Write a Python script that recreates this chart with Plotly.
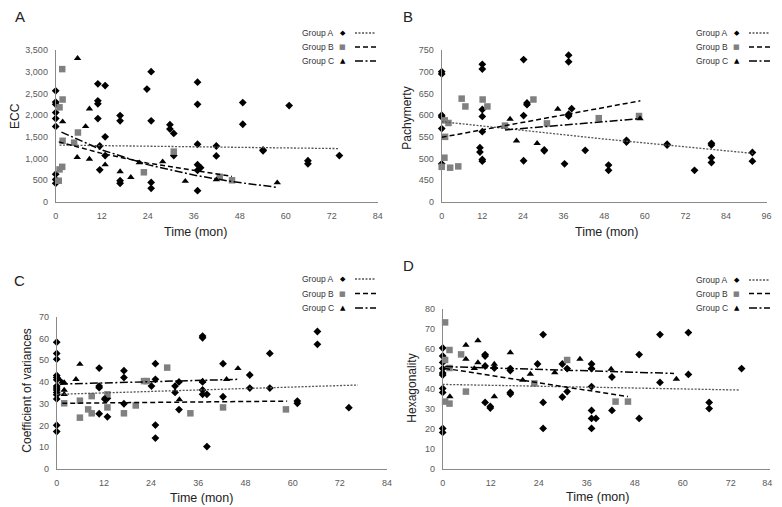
import plotly.graph_objects as go

# janela 782x507; o <body> do html tem 8px de margem, a figura começa em (8, 8)
W, H = 782, 507
M = 8
FW, FH = W - M, H - M

# ---------- A: ECC ----------
ecc_a_t = [0, 0, 0, 0, 0, 0, 0, 0, 0, 11, 11, 11, 11, 11.5, 11.5, 12.9, 12.9, 12.9,
           16.8, 16.8, 16.8, 16.8, 23.8, 24.9, 24.9, 24.9, 24.9, 29.8, 29.8, 30.8, 30.8,
           37, 37, 37, 37, 37, 37, 37.8, 41.9, 41.9, 48.8, 48.8, 54.1, 54.1, 60.9,
           65.8, 65.8, 74]
ecc_a = [2560, 2300, 2250, 2060, 1920, 1740, 640, 520, 430, 2720, 2330, 2260, 1920, 1290, 740,
         2680, 1500, 1070, 1990, 1870, 490, 430, 2600, 3000, 1870, 450, 315, 1780, 1680, 1580, 1070,
         2760, 2250, 1330, 860, 730, 260, 790, 1290, 1060, 2290, 1790, 1200, 1180, 2220,
         950, 880, 1070]
ecc_b_t = [1.7, 1.8, 1.0, 1.8, 5.8, 4.8, 1.7, 1.0, 0.8, 23, 30.8, 42.8, 46]
ecc_b = [3060, 2360, 2180, 1410, 1600, 1366, 810, 750, 490, 684, 1160, 580, 500]
ecc_c_t = [5.7, 1.8, 7.8, 8.8, 5.6, 8.8, 12.9, 16.8, 19.6, 21.8, 27.9, 33.8, 41.9, 57.8]
ecc_c = [3310, 1850, 1740, 2145, 1030, 990, 860, 700, 570, 905, 928, 480, 515, 445]
ecc_trend_a_t = [1, 74]
ecc_trend_a = [1310, 1230]
ecc_trend_b_t = [0.8, 12, 24, 36, 46]
ecc_trend_b = [1385, 1120, 895, 720, 590]
ecc_trend_c_t = [1.5, 12, 24, 36, 46, 58]
ecc_trend_c = [1610, 1200, 860, 620, 470, 335]

# ---------- B: Pachymetry ----------
pach_a_t = [0, 0, 0, 0, 0, 0, 12, 12, 12, 12, 12, 11.3, 11.3, 12, 12, 24.2, 24.2, 24.2,
            25.2, 25.2, 30.3, 30.3, 37.5, 37.5, 37.5, 37.5, 36.3, 38.4, 42.4, 49.3, 49.3,
            54.6, 54.6, 66.6, 66.6, 74.7, 79.7, 79.7, 79.7, 79.7, 91.8, 91.8]
pach_a = [700, 695, 600, 596, 569, 488, 717, 706, 613, 597, 562, 525, 515, 498, 494, 728, 599, 495,
          628, 624, 520, 518, 738, 723, 602, 598, 488, 615, 519, 485, 473,
          542, 538, 533, 531, 473, 535, 531, 502, 491, 514, 494]
pach_b_t = [0, 0.8, 1.0, 0.9, 2.0, 2.5, 4.9, 5.9, 7.0, 12.1, 13.5, 18.7, 27.1, 31.1, 46.4, 58.3]
pach_b = [481, 502, 550, 588, 582, 479, 482, 638, 620, 636, 620, 576, 636, 581, 593, 598]
pach_c_t = [20.2, 22.1, 28.2, 34.3, 58.6]
pach_c = [591, 541, 535, 614, 592]
pach_trend_a_t = [0, 48, 92]
pach_trend_a = [585, 545, 512]
pach_trend_b_t = [0, 58.7]
pach_trend_b = [549, 633]
pach_trend_c_t = [18.7, 58.7]
pach_trend_c = [566, 592]

# ---------- C: Coefficient of variances ----------
cv_a_t = [0, 0, 0, 0, 0, 0, 0, 0, 0, 0, 0, 0, 0, 0, 10.8, 10.8, 10.8, 10.8, 12.3, 12.3,
          12.9, 12.9, 17.1, 17.1, 17.1, 24.1, 25.1, 25.1, 25.1, 25.1, 30.1, 30.1, 31.1, 31.1,
          37.1, 37.1, 37.1, 37.1, 37.1, 38.2, 38.2, 42.3, 42.3, 49.1, 49.1, 54.2, 54.2,
          61.2, 61.2, 66.3, 66.3, 74.3]
cv_a = [58.3, 53.1, 50.5, 43, 42.1, 41, 38.1, 37.2, 36.3, 35.2, 34.1, 32.2, 20.1, 17.2,
        46.4, 38.1, 37.4, 25.4, 32.5, 32.0, 32.5, 24, 45.2, 42, 30, 38.1, 48.4, 41.2, 20.2, 14.2,
        38.1, 35.2, 40, 27.3, 61.1, 60.3, 40, 36.3, 34.3, 34.3, 10.3, 48.4, 33.2, 43.2, 37.2,
        53.1, 37.2, 31.2, 30.2, 63.2, 57.3, 28.2]
cv_b_t = [1.9, 5.9, 5.9, 8.0, 8.9, 8.9, 12.9, 12.9, 17.1, 20.1, 22.2, 22.9, 28.1, 34.0, 42.3, 58.3]
cv_b = [30.2, 31.4, 23.6, 27.4, 33.5, 25.6, 34.3, 28.3, 25.6, 29.2, 40.4, 40.4, 46.6, 25.6, 28.3, 27.4]
cv_c_t = [0.7, 1.3, 1.9, 1.9, 1.9, 4.9, 5.9, 12.3, 31.2, 37.1, 43.2, 46.1]
cv_c = [41.2, 40, 39.8, 36.3, 34.3, 41.2, 48.2, 32.5, 31.9, 40.4, 41.2, 46.2]
cv_trend_a_t = [0, 76.6]
cv_trend_a = [34.3, 38.6]
cv_trend_b_t = [1.4, 58.6]
cv_trend_b = [30.2, 31.2]
cv_trend_c_t = [0.8, 45.9]
cv_trend_c = [39.0, 41.2]

# ---------- D: Hexagonality ----------
hex_a_t = [0, 0, 0, 0, 0, 0, 0, 0, 0, 0, 10.6, 10.6, 10.6, 10.6, 11.9, 11.9, 12.9,
           16.9, 16.9, 16.9, 16.9, 23.7, 25.1, 25.1, 25.1, 29.9, 29.9, 31.1, 31.1,
           37.2, 37.2, 37.2, 37.2, 37.2, 37.2, 38.3, 42.3, 42.3, 49.1, 49.1, 54.3, 54.3,
           61.4, 61.4, 66.6, 66.6, 74.7]
hex_a = [60.5, 56.5, 53.3, 50.2, 48, 47, 40.3, 38.3, 20.3, 18.3, 57.2, 56.5, 51.5, 33.3, 31.3, 30.5, 50.5,
         50.2, 49.2, 38.3, 37.5, 52.5, 67.2, 33.3, 20.3, 52.5, 36, 50.2, 38.7,
         52.5, 50.2, 41.2, 29.3, 25.3, 20.3, 25.3, 46, 29.3, 57.2, 25.3, 67.2, 43.3,
         68.2, 47.3, 33.3, 30.2, 50.2]
hex_b_t = [0.6, 0.6, 1.7, 1.7, 0.6, 1.7, 4.6, 5.8, 22.9, 31.1, 43.2, 46.3]
hex_b = [73.3, 54.5, 59.5, 50.5, 33.7, 32.7, 57.3, 38.7, 42.8, 54.5, 33.7, 33.7]
hex_c_t = [1.8, 5.8, 5.8, 7.9, 8.8, 8.8, 12.9, 12.9, 16.9, 20, 21.9, 28, 34.3, 37.2, 42.1, 58.4]
hex_c = [36.2, 62, 55, 50.3, 64.2, 53.2, 52.5, 36.2, 58.2, 44.5, 47.5, 48.2, 55, 50.5, 50, 45]
hex_trend_a_t = [0, 74.1]
hex_trend_a = [42.3, 39.5]
hex_trend_b_t = [0.6, 46.3]
hex_trend_b = [50.3, 36.2]
hex_trend_c_t = [0.6, 57.8]
hex_trend_c = [51.2, 47.8]

groups = ["Group A", "Group B", "Group C"]

FONT = "Liberation Sans, Arial, sans-serif"
marcadores = [dict(symbol="diamond", size=6, color="black"),
              dict(symbol="square", size=6.5, color="#808080"),
              dict(symbol="triangle-up", size=6.5, color="black")]
linhas = [dict(color="#555555", width=1.3, dash="2px,1.5px"),
          dict(color="black", width=1.5, dash="5px,3px"),
          dict(color="black", width=1.5, dash="8px,2.5px,2px,2.5px")]

fig = go.Figure()


def add_painel(n, pontos, tendencias):
    xa = "x" if n == 1 else f"x{n}"
    ya = "y" if n == 1 else f"y{n}"
    for (t, v), m, g in zip(pontos, marcadores, groups):
        fig.add_trace(go.Scatter(x=t, y=v, mode="markers", marker=m, name=g,
                                 xaxis=xa, yaxis=ya, cliponaxis=False, showlegend=False))
    for (t, v), l, g in zip(tendencias, linhas, groups):
        fig.add_trace(go.Scatter(x=t, y=v, mode="lines", line=l, name=g,
                                 xaxis=xa, yaxis=ya, showlegend=False))


add_painel(1, [(ecc_a_t, ecc_a), (ecc_b_t, ecc_b), (ecc_c_t, ecc_c)],
           [(ecc_trend_a_t, ecc_trend_a), (ecc_trend_b_t, ecc_trend_b), (ecc_trend_c_t, ecc_trend_c)])
add_painel(2, [(pach_a_t, pach_a), (pach_b_t, pach_b), (pach_c_t, pach_c)],
           [(pach_trend_a_t, pach_trend_a), (pach_trend_b_t, pach_trend_b), (pach_trend_c_t, pach_trend_c)])
add_painel(3, [(cv_a_t, cv_a), (cv_b_t, cv_b), (cv_c_t, cv_c)],
           [(cv_trend_a_t, cv_trend_a), (cv_trend_b_t, cv_trend_b), (cv_trend_c_t, cv_trend_c)])
add_painel(4, [(hex_a_t, hex_a), (hex_b_t, hex_b), (hex_c_t, hex_c)],
           [(hex_trend_a_t, hex_trend_a), (hex_trend_b_t, hex_trend_b), (hex_trend_c_t, hex_trend_c)])


# posições em pixels da janela -> coordenadas "paper" da figura
def px(x):
    return (x - M) / FW


def py(y):
    return 1 - (y - M) / FH


eixo = dict(showline=True, linecolor="#8a8a8a", linewidth=1, showgrid=False, zeroline=False,
            automargin=False, ticks="", tickfont=dict(family=FONT, size=9, color="#595959"),
            ticklabelstandoff=5)

fig.update_layout(
    width=FW, height=FH,
    margin=dict(l=0, r=0, t=0, b=0, autoexpand=False),
    paper_bgcolor="white", plot_bgcolor="white",
    font=dict(family=FONT, color="#222222"),
    xaxis=dict(eixo, domain=[px(55.7), px(377.7)], range=[0, 84], tickvals=list(range(0, 85, 12)), anchor="y"),
    yaxis=dict(eixo, domain=[py(202), py(50)], range=[0, 3500], tickvals=list(range(0, 3501, 500)),
               tickformat=",", anchor="x"),
    xaxis2=dict(eixo, domain=[px(441.7), px(766.6)], range=[0, 96], tickvals=list(range(0, 97, 12)), anchor="y2"),
    yaxis2=dict(eixo, domain=[py(202), py(50)], range=[400, 750], tickvals=list(range(400, 751, 50)),
                ticktext=["0"] + [str(v) for v in range(450, 751, 50)], anchor="x2"),
    xaxis3=dict(eixo, domain=[px(56.7), px(387)], range=[0, 84], tickvals=list(range(0, 85, 12)), anchor="y3"),
    yaxis3=dict(eixo, domain=[py(469), py(316.7)], range=[0, 70], tickvals=list(range(0, 71, 10)), anchor="x3"),
    xaxis4=dict(eixo, domain=[px(442.7), px(770)], range=[0, 81.8],
                tickvals=[0, 12, 24, 36, 48, 60, 72, 81.1], ticktext=["0", "12", "24", "36", "48", "60", "72", "84"],
                anchor="y4"),
    yaxis4=dict(eixo, domain=[py(469), py(309)], range=[0, 80], tickvals=list(range(0, 81, 10)), anchor="x4"),
)

anots = []
centro = dict(xref="paper", yref="paper", showarrow=False, xanchor="center", yanchor="middle")
# letras dos painéis
for letra, x, y in [("A", 19.7, 16), ("B", 408.3, 16.5), ("C", 19, 280), ("D", 408.3, 265)]:
    anots.append(dict(centro, text=letra, x=px(x), y=py(y),
                      font=dict(family=FONT, size=15, color="#222222")))

# títulos dos eixos
for texto, x, y in [("Time (mon)", 195, 232), ("Time (mon)", 606, 232),
                    ("Time (mon)", 201, 498), ("Time (mon)", 597, 497)]:
    anots.append(dict(centro, text=texto, x=px(x), y=py(y),
                      font=dict(family=FONT, size=12.5, color="#222222")))
for texto, x, y in [("ECC", 15, 116), ("Pachymerty", 406.7, 118),
                    ("Coefficient of variances", 26.7, 390), ("Hexagonality", 411.7, 388)]:
    anots.append(dict(centro, text=texto, x=px(x), y=py(y), textangle=-90,
                      font=dict(family=FONT, size=12, color="#222222")))

# legendas desenhadas à mão (texto, símbolo, amostra de linha)
simbolos = [("◆", "black", 7), ("■", "#808080", 7), ("▲", "black", 7)]
formas = []
for x0, linhas_y in [(300, [33, 47, 61]), (694, [33, 47, 61]),
                     (300, [279, 293.5, 308]), (694, [280, 293.5, 308])]:
    for g, (s, cor, tam), l, y in zip(groups, simbolos, linhas, linhas_y):
        anots.append(dict(centro, text=g, x=px(x0), y=py(y), xanchor="left",
                          font=dict(family=FONT, size=8.5, color="#333333")))
        anots.append(dict(centro, text=s, x=px(x0 + 42.5), y=py(y),
                          font=dict(family="DejaVu Sans", size=tam, color=cor)))
        formas.append(dict(type="line", xref="paper", yref="paper", x0=px(x0 + 55), x1=px(x0 + 76),
                           y0=py(y), y1=py(y), line=l))

fig.update_layout(annotations=anots, shapes=formas)

fig.write_html("out.html")
